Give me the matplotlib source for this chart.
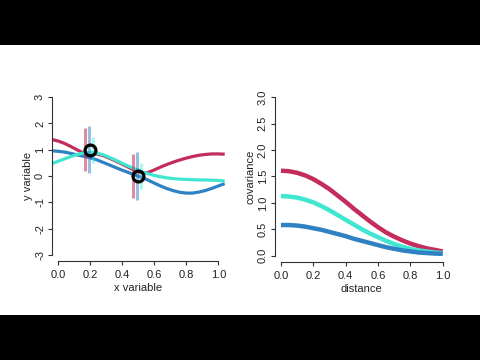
import matplotlib
matplotlib.use("Agg")
import matplotlib.pyplot as plt
from matplotlib.patches import Rectangle

plt.rcParams['font.family'] = ['Liberation Sans', 'DejaVu Sans']

# ---- data: left panel (GP samples) ----
x_grid = [-0.04, 0.00, 0.04, 0.08, 0.12, 0.16, 0.20, 0.24, 0.28, 0.32, 0.36, 0.40, 0.44, 0.48,
          0.52, 0.56, 0.60, 0.64, 0.68, 0.72, 0.76, 0.80, 0.84, 0.88, 0.92, 0.96, 1.00, 1.04]
y_red = [1.39, 1.33, 1.24, 1.12, 0.99, 0.87, 0.86, 0.84, 0.78, 0.68, 0.57, 0.45, 0.33, 0.21,
         0.12, 0.13, 0.23, 0.34, 0.44, 0.53, 0.61, 0.68, 0.74, 0.79, 0.82, 0.84, 0.84, 0.83]
y_blue = [0.96, 0.94, 0.91, 0.86, 0.80, 0.75, 0.69, 0.62, 0.52, 0.42, 0.32, 0.22, 0.13, 0.04,
          -0.05, -0.15, -0.27, -0.38, -0.48, -0.56, -0.62, -0.65, -0.65, -0.61, -0.55, -0.47, -0.38, -0.29]
y_cyan = [0.47, 0.56, 0.65, 0.74, 0.82, 0.88, 0.90, 0.88, 0.81, 0.71, 0.60, 0.48, 0.37, 0.27,
          0.17, 0.09, 0.02, -0.03, -0.07, -0.10, -0.12, -0.13, -0.14, -0.15, -0.15, -0.16, -0.17, -0.19]

obs_x = [0.2, 0.5]
obs_y = [1.0, 0.0]
# noise half-widths shown as vertical bars
err_red = 0.82
err_blue = 0.90
err_cyan = 0.50

# ---- data: right panel (covariance functions) ----
dist = [0.00, 0.05, 0.10, 0.15, 0.20, 0.25, 0.30, 0.35, 0.40, 0.45, 0.50,
        0.55, 0.60, 0.65, 0.70, 0.75, 0.80, 0.85, 0.90, 0.95, 1.00]
cov_red = [1.61, 1.60, 1.57, 1.52, 1.45, 1.36, 1.26, 1.14, 1.02, 0.89, 0.77,
           0.65, 0.54, 0.44, 0.36, 0.29, 0.23, 0.18, 0.14, 0.11, 0.08]
cov_cyan = [1.13, 1.12, 1.10, 1.06, 1.01, 0.94, 0.86, 0.77, 0.68, 0.59, 0.50,
            0.42, 0.35, 0.28, 0.22, 0.17, 0.13, 0.10, 0.08, 0.06, 0.05]
cov_blue = [0.58, 0.58, 0.57, 0.55, 0.52, 0.49, 0.45, 0.41, 0.37, 0.32, 0.28,
            0.24, 0.20, 0.16, 0.13, 0.10, 0.08, 0.06, 0.05, 0.04, 0.035]

RED = '#C42C5C'
BLUE = '#2E82C4'
CYAN = '#40E6CF'
AX = '#333333'
TXT = '#222222'
FS = 8

fig = plt.figure(figsize=(4.8, 3.6), dpi=100)
fig.patch.set_facecolor('white')
# letterbox bars
fig.patches.append(Rectangle((0, 1 - 45/360), 1, 45/360, transform=fig.transFigure,
                             facecolor='black', edgecolor='none', zorder=0))
fig.patches.append(Rectangle((0, 0), 1, 45/360, transform=fig.transFigure,
                             facecolor='black', edgecolor='none', zorder=0))

def r_style(ax, xticks, yticks, xlabels, ylabels):
    for s in ['top', 'right']:
        ax.spines[s].set_visible(False)
    ax.spines['left'].set_bounds(yticks[0], yticks[-1])
    ax.spines['bottom'].set_bounds(xticks[0], xticks[-1])
    for s in ['left', 'bottom']:
        ax.spines[s].set_color(AX)
        ax.spines[s].set_linewidth(0.8)
    ax.set_xticks(xticks)
    ax.set_xticklabels(xlabels)
    ax.set_yticks(yticks)
    ax.set_yticklabels(ylabels, rotation=90, va='center')
    ax.tick_params(axis='both', direction='out', length=3, width=0.8, color=AX,
                   labelsize=FS, labelcolor=TXT)
    ax.tick_params(axis='x', pad=3.3)
    ax.tick_params(axis='y', pad=1.8)

# left panel
ax1 = fig.add_axes([51.7/480, 1 - 261.2/360, 173/480, 170.4/360])
ax1.set_xlim(-0.04, 1.04)
ax1.set_ylim(-3.24, 3.24)
ax1.plot(x_grid, y_red, color=RED, lw=2.3, solid_capstyle='butt', zorder=2)
ax1.plot(x_grid, y_blue, color=BLUE, lw=2.3, solid_capstyle='butt', zorder=2)
ax1.plot(x_grid, y_cyan, color=CYAN, lw=2.3, solid_capstyle='butt', zorder=2)
for ox, oy in zip(obs_x, obs_y):
    ax1.vlines(ox - 0.03, oy - err_red, oy + err_red, color=RED, alpha=0.55, lw=2.2, zorder=3)
    ax1.vlines(ox - 0.005, oy - err_blue, oy + err_blue, color=BLUE, alpha=0.5, lw=2.2, zorder=3)
    ax1.vlines(ox + 0.017, oy - err_cyan, oy + err_cyan, color=CYAN, alpha=0.4, lw=2.2, zorder=3)
ax1.plot(obs_x, obs_y, 'o', ms=7.8, mfc='none', mec='black', mew=2.3, zorder=4)
r_style(ax1, [0.0, 0.2, 0.4, 0.6, 0.8, 1.0], [-3, -2, -1, 0, 1, 2, 3],
        ['0.0', '0.2', '0.4', '0.6', '0.8', '1.0'], ['-3', '-2', '-1', '0', '1', '2', '3'])
ax1.set_xlabel('x variable', fontsize=FS, labelpad=2.5, color=TXT)
ax1.set_ylabel('y variable', fontsize=FS, labelpad=1.5, color=TXT)

# right panel
ax2 = fig.add_axes([274.5/480, 1 - 262/360, 174.7/480, 171/360])
ax2.set_xlim(-0.04, 1.04)
ax2.set_ylim(-0.12, 3.12)
ax2.plot(dist, cov_red, color=RED, lw=3.2, solid_capstyle='butt')
ax2.plot(dist, cov_cyan, color=CYAN, lw=3.2, solid_capstyle='butt')
ax2.plot(dist, cov_blue, color=BLUE, lw=3.2, solid_capstyle='butt')
r_style(ax2, [0.0, 0.2, 0.4, 0.6, 0.8, 1.0], [0.0, 0.5, 1.0, 1.5, 2.0, 2.5, 3.0],
        ['0.0', '0.2', '0.4', '0.6', '0.8', '1.0'], ['0.0', '0.5', '1.0', '1.5', '2.0', '2.5', '3.0'])
ax2.set_xlabel('distance', fontsize=FS, labelpad=2.5, color=TXT)
ax2.set_ylabel('covariance', fontsize=FS, labelpad=1.5, color=TXT)

fig.savefig('out.png', dpi=100)
